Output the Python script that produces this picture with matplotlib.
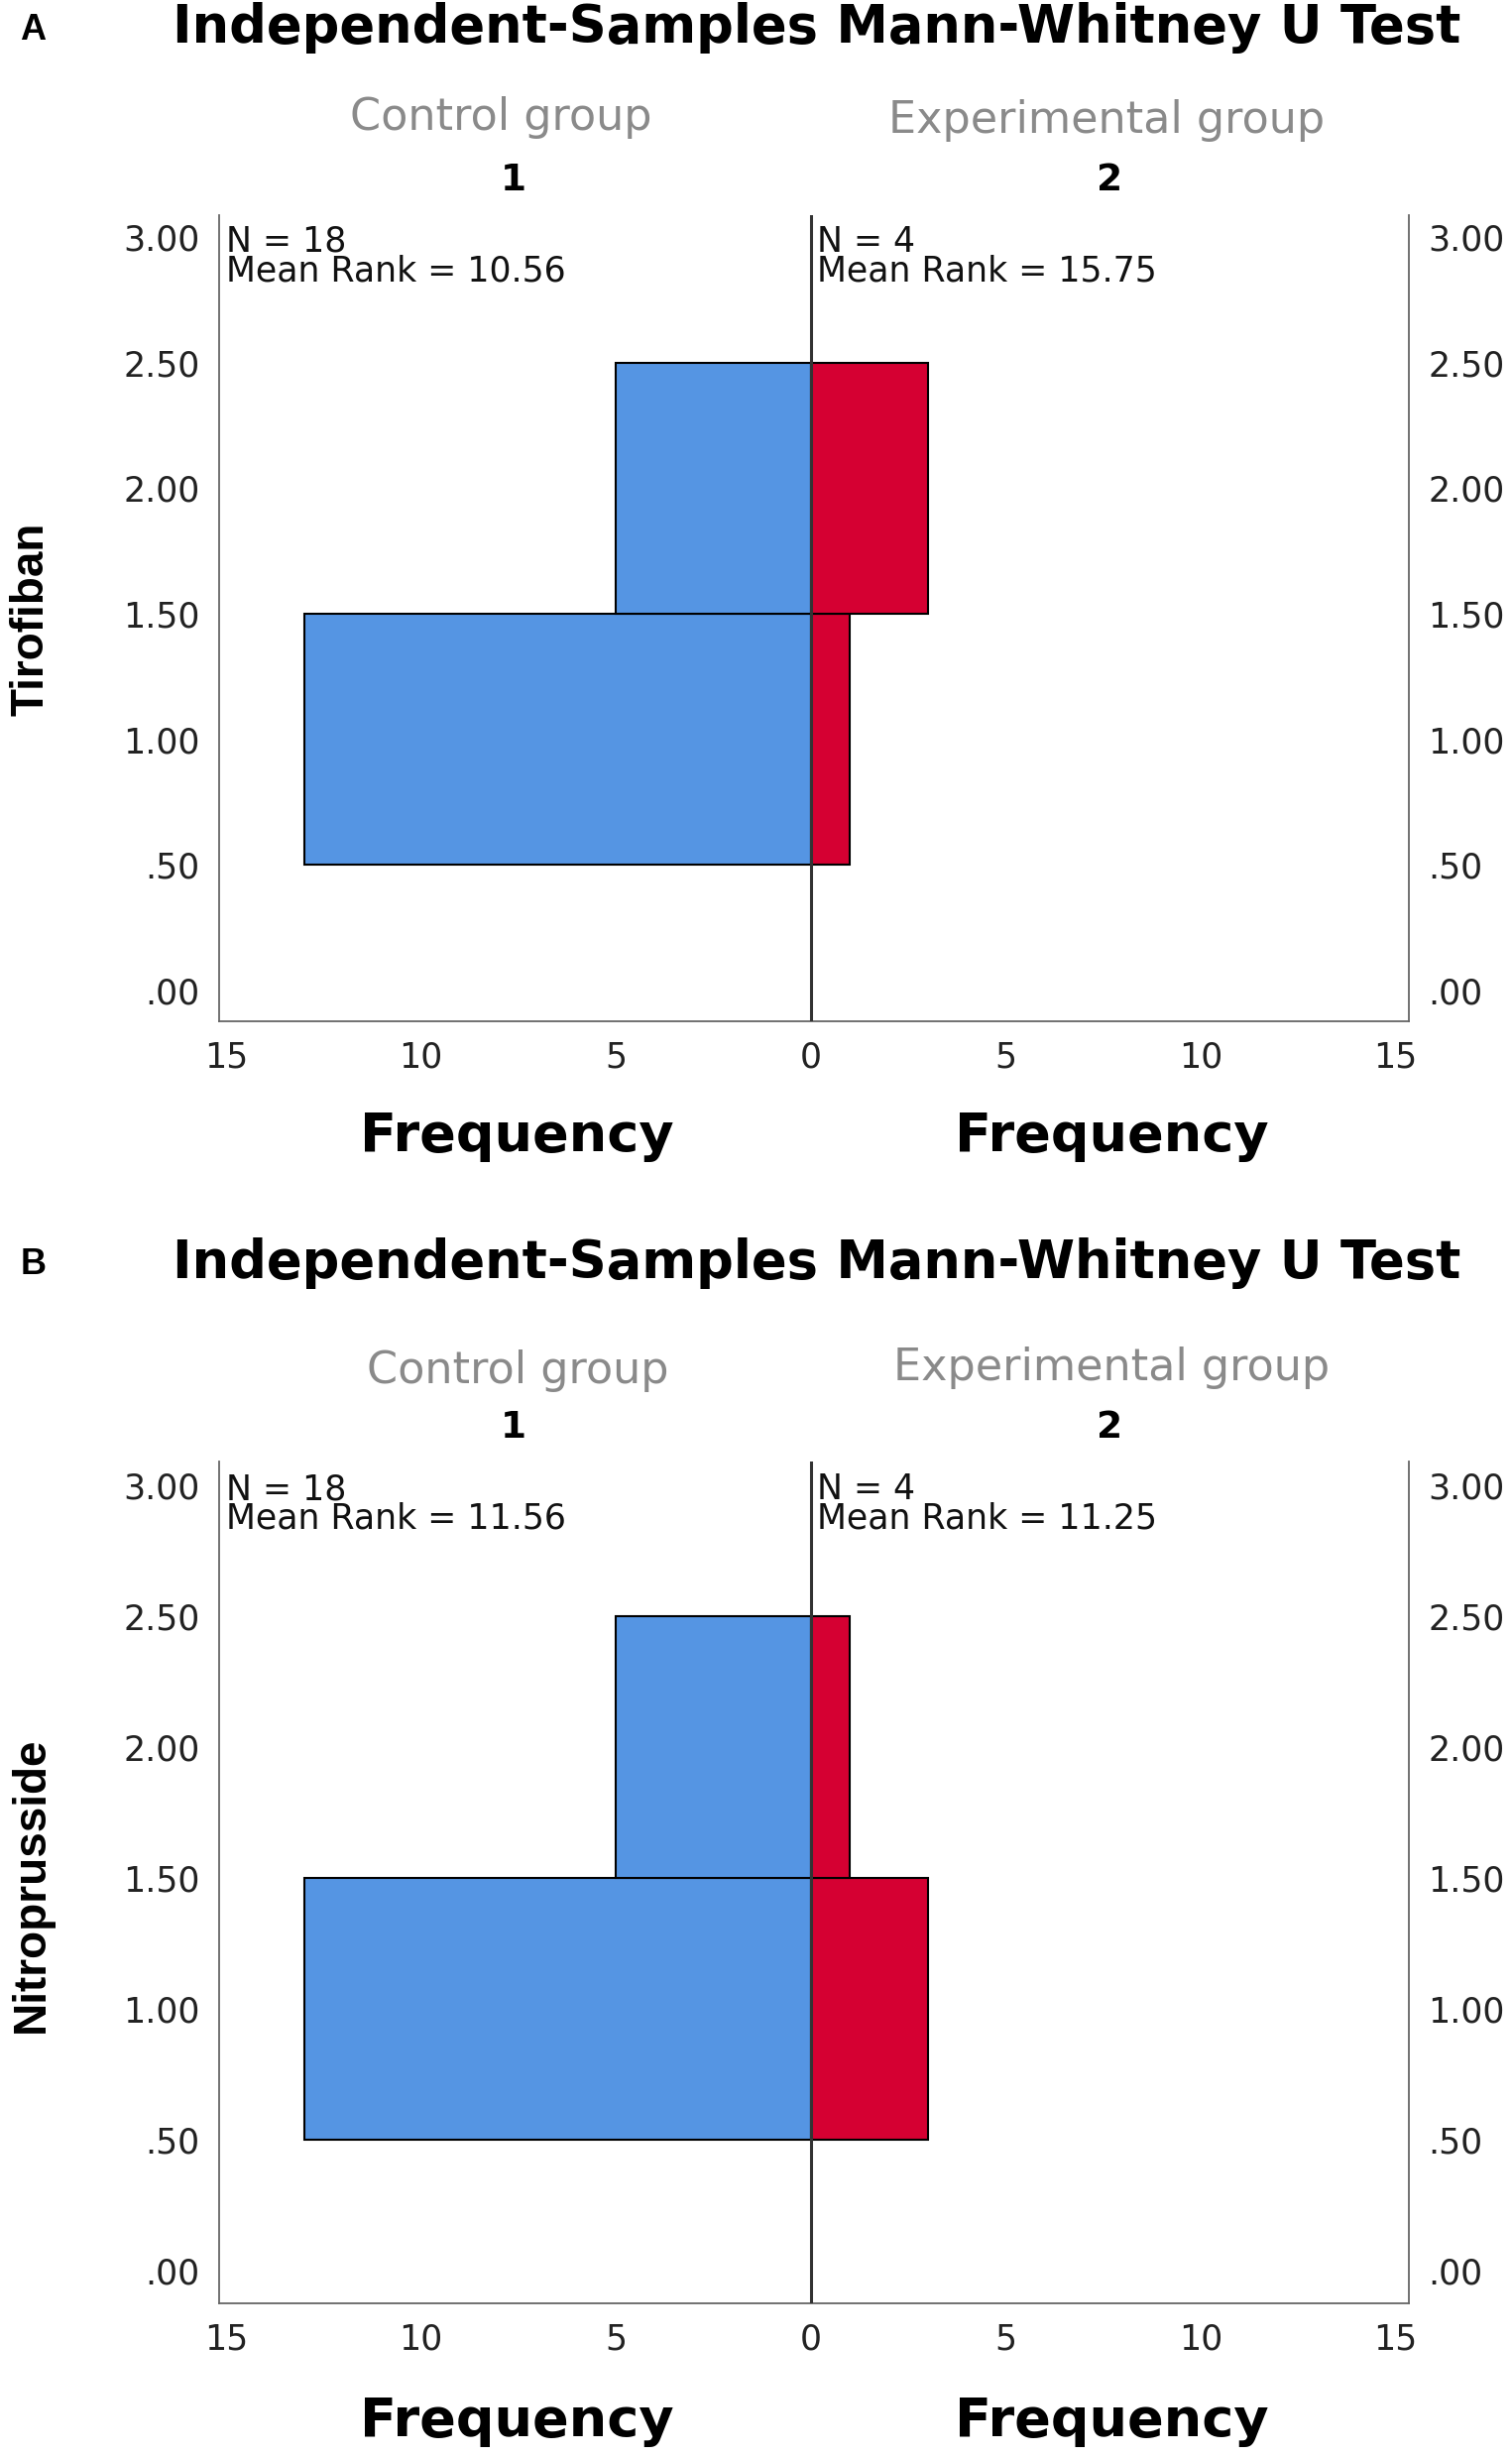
import matplotlib
matplotlib.use("Agg")
import matplotlib.pyplot as plt
import numpy as np

plt.rcParams['font.family'] = ['DejaVu Sans']

# Data
bin_lefts = [0.5, 1.5]
control_tirofiban = [13, 5]
experimental_tirofiban = [1, 3]
control_nitro = [13, 5]
experimental_nitro = [3, 1]
panel_letters = ["A", "B"]
variable_names = ["Tirofiban", "Nitroprusside"]
control_stats = ["N = 18\nMean Rank = 10.56", "N = 18\nMean Rank = 11.56"]
experimental_stats = ["N = 4\nMean Rank = 15.75", "N = 4\nMean Rank = 11.25"]
y_ticks = [0.0, 0.5, 1.0, 1.5, 2.0, 2.5, 3.0]
y_ticklabels = [".00", ".50", "1.00", "1.50", "2.00", "2.50", "3.00"]
x_ticks = [-15, -10, -5, 0, 5, 10, 15]
x_ticklabels = ["15", "10", "5", "0", "5", "10", "15"]
title = "Independent-Samples Mann-Whitney U Test"

BLUE = "#5595E3"
RED = "#D50032"
AX_COLOR = "#666666"

W, H = 1525, 2478
fig = plt.figure(figsize=(W / 100, H / 100), dpi=100)

def fx(px):  # displayed-image x (966 wide) to fig fraction
    return px / 966.0

def fy(py):  # displayed-image y (1568 high) to fig fraction
    return 1 - py / 1568.0

panels = [
    dict(top=137, bottom=652, title_y=18, grp_y=(75, 77), grp_x=(320, 707), num_y=115,
         freq_y=725, ylab_y=395, control=control_tirofiban, exp=experimental_tirofiban),
    dict(top=933, bottom=1470, title_y=806, grp_y=(875, 873), grp_x=(331, 710), num_y=911,
         freq_y=1545, ylab_y=1203, control=control_nitro, exp=experimental_nitro),
]

for i, p in enumerate(panels):
    left, right = 140, 900
    ax = fig.add_axes([fx(left), fy(p['bottom']), fx(right) - fx(left), fy(p['top']) - fy(p['bottom'])])
    ax.set_xlim(-15.18, 15.34)
    ax.set_ylim(-0.125, 3.09)
    ax.barh(bin_lefts, [-v for v in p['control']], height=1.0, left=0, align='edge',
            color=BLUE, edgecolor='black', linewidth=1.5, zorder=2)
    ax.barh(bin_lefts, p['exp'], height=1.0, left=0, align='edge',
            color=RED, edgecolor='black', linewidth=1.5, zorder=2)
    ax.axvline(0, color='#333333', linewidth=2.2, zorder=3)
    for s in ['left', 'right', 'bottom']:
        ax.spines[s].set_color(AX_COLOR)
        ax.spines[s].set_linewidth(1.3)
    ax.spines['top'].set_visible(False)
    ax.set_yticks(y_ticks)
    ax.set_yticklabels(y_ticklabels)
    ax.set_xticks(x_ticks)
    ax.set_xticklabels(x_ticklabels)
    ax.tick_params(axis='both', length=0, labelsize=25, colors='#222222')
    ax.tick_params(axis='y', pad=14)
    ax.tick_params(axis='x', pad=14)
    ax2 = ax.twinx()
    ax2.set_ylim(ax.get_ylim())
    ax2.set_yticks(y_ticks)
    ax2.set_yticklabels(y_ticklabels)
    ax2.tick_params(axis='y', length=0, labelsize=25, colors='#222222', pad=14)
    for s in ax2.spines.values():
        s.set_visible(False)

    ax.text(-15.0, 3.05, control_stats[i], fontsize=25, va='top', ha='left', color='#111111', linespacing=0.85)
    ax.text(0.15, 3.05, experimental_stats[i], fontsize=25, va='top', ha='left', color='#111111', linespacing=0.85)

    fig.text(fx(21), fy(p['title_y'] + 1), panel_letters[i], fontsize=26, fontweight='bold', ha='center', va='center',
             family='Liberation Sans')
    fig.text(fx(522), fy(p['title_y']), title, fontsize=38, fontweight='bold', ha='center', va='center')
    fig.text(fx(p['grp_x'][0]), fy(p['grp_y'][0]), "Control group", fontsize=32, color='#8a8a8a',
             ha='center', va='center')
    fig.text(fx(p['grp_x'][1]), fy(p['grp_y'][1]), "Experimental group", fontsize=32, color='#8a8a8a',
             ha='center', va='center')
    fig.text(fx(328), fy(p['num_y']), "1", fontsize=27, fontweight='bold', ha='center', va='center')
    fig.text(fx(709), fy(p['num_y']), "2", fontsize=27, fontweight='bold', ha='center', va='center')
    fig.text(fx(330), fy(p['freq_y']), "Frequency", fontsize=39, fontweight='bold', ha='center', va='center')
    fig.text(fx(710), fy(p['freq_y']), "Frequency", fontsize=39, fontweight='bold', ha='center', va='center')
    fig.text(fx(20), fy(p['ylab_y']), variable_names[i], fontsize=33, fontweight='bold', rotation=90,
             ha='center', va='center', family='Liberation Sans')

fig.savefig("out.png", dpi=100, facecolor='white')
